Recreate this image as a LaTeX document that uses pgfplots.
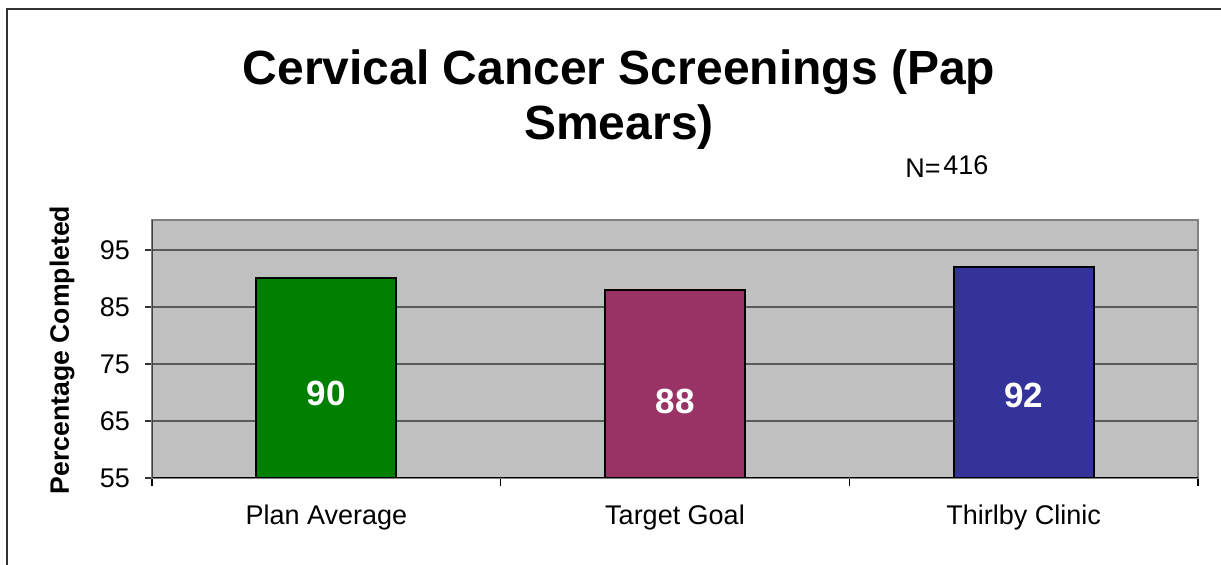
\documentclass[border=0pt]{standalone}
\usepackage{pgfplots}
\pgfplotsset{compat=1.18}
\usepackage{fontspec}
\setmainfont{Liberation Sans}
\definecolor{plotbg}{HTML}{C0C0C0}
\definecolor{gridc}{HTML}{5A5A5A}
\definecolor{bgreen}{HTML}{008000}
\definecolor{bmaroon}{HTML}{993366}
\definecolor{bblue}{HTML}{333399}
\begin{document}
\begin{tikzpicture}
\useasboundingbox (0,0) rectangle (610.5pt,282.5pt);
\draw[line width=1pt, color=black!80] (3.5pt,0) -- (3.5pt,278pt) -- (610.5pt,278pt);
\begin{axis}[
  at={(76pt,43.5pt)}, anchor=south west,
  scale only axis, width=523pt, height=129pt,
  xmin=-0.5, xmax=2.5, ymin=55, ymax=100.25,
  axis background/.style={fill=plotbg},
  axis line style={draw=black!50, line width=1pt},
  ytick={55,65,75,85,95},
  xtick={0,1,2},
  xticklabels={Plan Average, Target Goal, Thirlby Clinic},
  minor xtick={-0.5,0.5,1.5,2.5},
  major x tick style={draw=none},
  minor x tick style={draw=black, line width=0.6pt},
  tick align=outside,
  tick pos=left,
  minor tick length=4pt,
  major tick length=3.5pt,
  y tick style={draw=black!80, line width=0.6pt},
  ymajorgrids, grid style={draw=gridc, line width=0.7pt},
  /pgf/number format/assume math mode=true,
  tick label style={font=\fontsize{13.5pt}{15pt}\selectfont, text=black},
  xticklabel style={yshift=-6.5pt},
  yticklabel style={xshift=-4pt},
  ybar, bar width=70pt, bar shift=0pt,
  clip=true,
]
\addplot[fill=bgreen, draw=black, line width=1pt] coordinates {(0,90)};
\addplot[fill=bmaroon, draw=black, line width=1pt] coordinates {(1,88)};
\addplot[fill=bblue, draw=black, line width=1pt] coordinates {(2,92)};
\draw[black, line width=1.2pt] (rel axis cs:0,0) -- (rel axis cs:1,0);
\draw[black!75, line width=1pt] (rel axis cs:0,0) -- (rel axis cs:0,1);
\node[text=white, font=\bfseries\fontsize{17.5pt}{19pt}\selectfont] at (axis cs:0,69.8) {90};
\node[text=white, font=\bfseries\fontsize{17.5pt}{19pt}\selectfont] at (axis cs:1,68.5) {88};
\node[text=white, font=\bfseries\fontsize{17.5pt}{19pt}\selectfont] at (axis cs:2,69.4) {92};
\end{axis}
\node[anchor=base, font=\bfseries\fontsize{24pt}{28pt}\selectfont] at (309.5pt,240pt) {Cervical Cancer Screenings (Pap};
\node[anchor=base, font=\bfseries\fontsize{24pt}{28pt}\selectfont] at (309.5pt,212.5pt) {Smears)};
\node[anchor=base west, inner sep=0pt, font=\fontsize{13.5pt}{15pt}\selectfont] at (452.5pt,193.5pt) {N=};
\node[anchor=base west, inner sep=0pt, font=\fontsize{13.5pt}{15pt}\selectfont] at (471.5pt,195pt) {416};
\node[rotate=90, font=\bfseries\fontsize{13.3pt}{15pt}\selectfont] at (31pt,107.5pt) {Percentage Completed};
\end{tikzpicture}
\end{document}
